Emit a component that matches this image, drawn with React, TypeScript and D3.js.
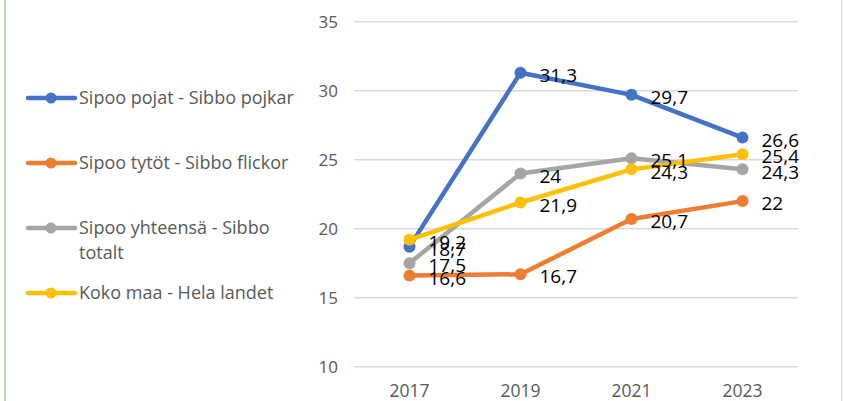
import React from "react";
import * as d3 from "d3";

const years = ["2017", "2019", "2021", "2023"];
const seriesNames = [
  "Sipoo pojat - Sibbo pojkar",
  "Sipoo tytöt - Sibbo flickor",
  "Sipoo yhteensä - Sibbo totalt",
  "Koko maa - Hela landet",
];
const legendLines = [
  ["Sipoo pojat - Sibbo pojkar"],
  ["Sipoo tytöt - Sibbo flickor"],
  ["Sipoo yhteensä - Sibbo", "totalt"],
  ["Koko maa - Hela landet"],
];
const pojat = [18.7, 31.3, 29.7, 26.6];
const tytot = [16.6, 16.7, 20.7, 22];
const yhteensa = [17.5, 24, 25.1, 24.3];
const kokoMaa = [19.2, 21.9, 24.3, 25.4];
const yTicks = [10, 15, 20, 25, 30, 35];
const colors = ["#4472C4", "#ED7D31", "#A5A5A5", "#FFC000"];

const W = 843;
const H = 401;
const FONT = "'Open Sans', sans-serif";

export default function App() {
  const allSeries = [pojat, tytot, yhteensa, kokoMaa];
  const x = d3.scaleBand<string>().domain(years).range([354, 798]);
  const y = d3.scaleLinear().domain([10, 35]).range([366.7, 21.7]);
  const cx = (yr: string) => (x(yr) as number) + x.bandwidth() / 2;
  const line = d3
    .line<number>()
    .x((_, i) => cx(years[i]))
    .y((v) => y(v));
  const fmt = (v: number) => String(v).replace(".", ",");
  const legendY = [98, 163, 228, 293];

  return (
    <svg
      width={W}
      height={H}
      style={{ position: "absolute", left: 0, top: 0, background: "#fff" }}
      fontFamily={FONT}
    >
      <rect x={0} y={0} width={W} height={H} fill="#fff" />
      <line x1={5} x2={5} y1={0} y2={H} stroke="#A9D18E" strokeWidth={1.5} />
      <line x1={841.5} x2={841.5} y1={0} y2={H} stroke="#D9D9D9" strokeWidth={1} />
      {yTicks.map((t) => (
        <g key={t}>
          <line x1={354} x2={798} y1={y(t)} y2={y(t)} stroke="#D9D9D9" strokeWidth={1.5} />
          <text
            x={338}
            y={y(t)}
            dy="0.35em"
            textAnchor="end"
            fontSize={17}
            fill="#595959"
          >
            {t}
          </text>
        </g>
      ))}
      {years.map((yr) => (
        <text
          key={yr}
          x={cx(yr)}
          y={397}
          textAnchor="middle"
          fontSize={17.5}
          fill="#595959"
        >
          {yr}
        </text>
      ))}
      {allSeries.map((s, si) => (
        <g key={seriesNames[si]}>
          <path
            d={line(s) || ""}
            fill="none"
            stroke={colors[si]}
            strokeWidth={4.5}
            strokeLinejoin="round"
            strokeLinecap="round"
          />
          {s.map((v, i) => (
            <circle key={i} cx={cx(years[i])} cy={y(v)} r={6} fill={colors[si]} />
          ))}
        </g>
      ))}
      {allSeries.map((s, si) =>
        s.map((v, i) => (
          <text
            key={`${si}-${i}`}
            x={cx(years[i]) + 19}
            y={y(v) + 2.5}
            dy="0.35em"
            fontSize={19}
            fill="#000"
          >
            {fmt(v)}
          </text>
        ))
      )}
      {legendLines.map((lines, li) => (
        <g key={li}>
          <line
            x1={28}
            x2={75}
            y1={legendY[li]}
            y2={legendY[li]}
            stroke={colors[li]}
            strokeWidth={4.5}
            strokeLinecap="round"
          />
          <circle cx={51} cy={legendY[li]} r={5.5} fill={colors[li]} />
          {lines.map((ln, k) => (
            <text
              key={k}
              x={79}
              y={legendY[li] + k * 25}
              dy="0.35em"
              fontSize={18}
              fill="#595959"
            >
              {ln}
            </text>
          ))}
        </g>
      ))}
    </svg>
  );
}
